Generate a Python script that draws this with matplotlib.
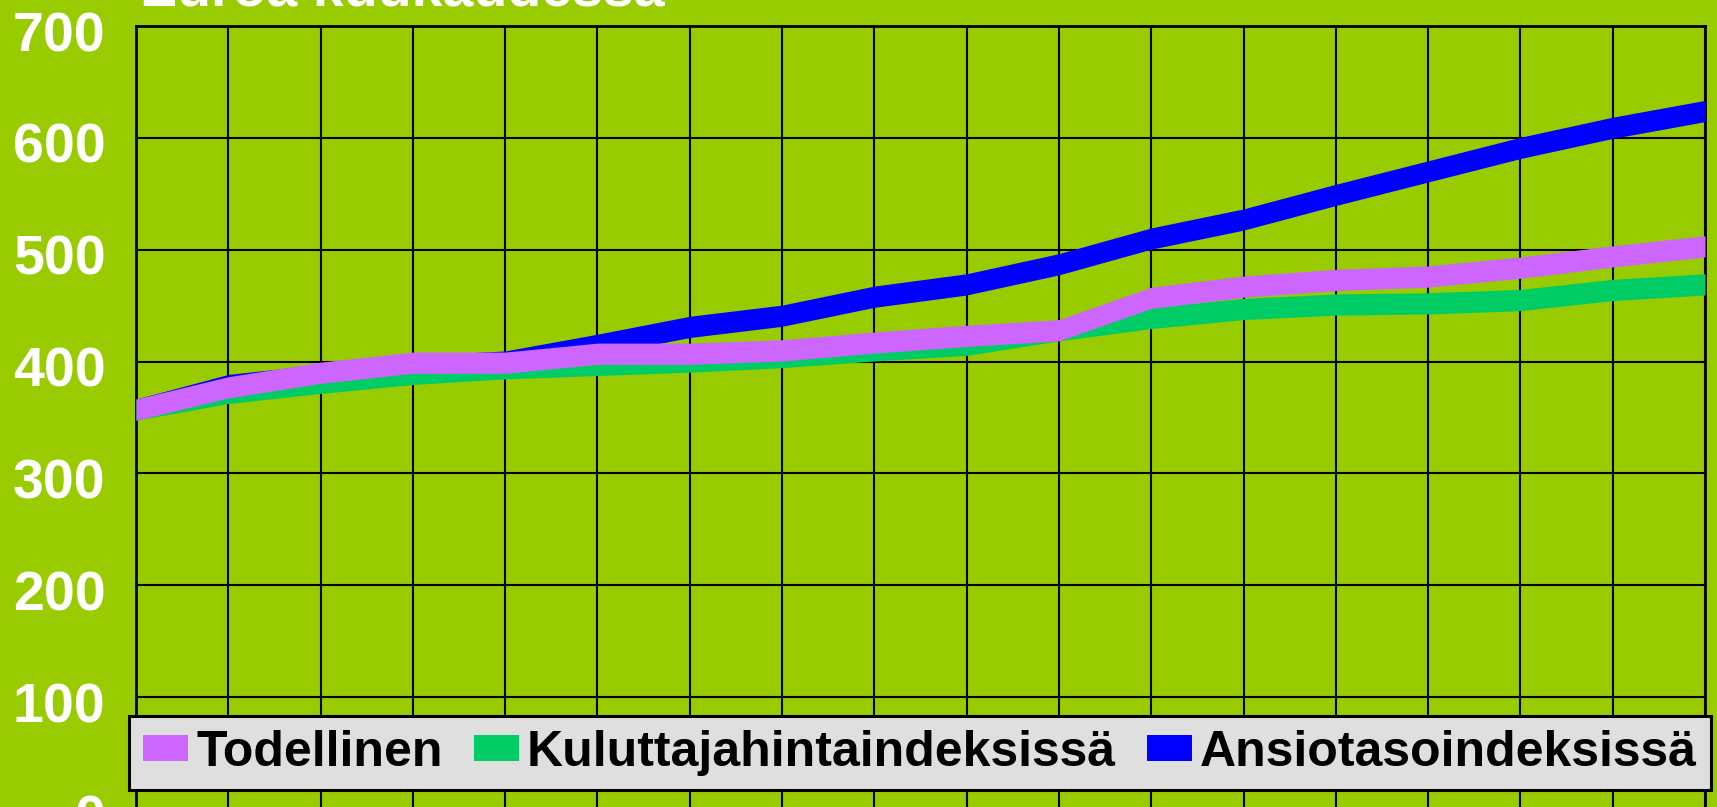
import numpy as np
import matplotlib
matplotlib.use("Agg")
import matplotlib.pyplot as plt
from matplotlib.patches import Patch
from matplotlib.transforms import ScaledTranslation

# ---- data (euros per month) ----
periods = list(range(18))
todellinen = [357, 377, 390, 399, 399, 407, 407, 410, 417, 423, 428, 457, 467, 473, 476, 484, 494, 503]
kuluttaja = [357, 372, 381, 389, 394, 397, 400, 404, 410, 415, 428, 439, 447, 451, 452, 455, 464, 469]
ansiotaso = [357, 379, 388, 396, 400, 415, 431, 441, 458, 469, 487, 510, 527, 549, 570, 591, 609, 624]
series_names = ["Todellinen", "Kuluttajahintaindeksissä", "Ansiotasoindeksissä"]
y_ticks = [0, 100, 200, 300, 400, 500, 600, 700]
title = "Euroa kuukaudessa"

BG = "#99CC00"
C_TOD = "#CC66FF"
C_KUL = "#00CC66"
C_ANS = "#0000FF"
HALF = 9.5  # half ribbon thickness in data units

plt.rcParams['font.family'] = ['Liberation Sans', 'DejaVu Sans']

fig = plt.figure(figsize=(17.17, 8.07), dpi=100, facecolor=BG)
ax = fig.add_axes([136/1717, 1 - 809/807, (1705 - 136)/1717, (809 - 26)/807])
ax.set_facecolor(BG)

x = np.array(periods)
for vals, col, z in [(ansiotaso, C_ANS, 3), (kuluttaja, C_KUL, 4), (todellinen, C_TOD, 5)]:
    v = np.array(vals, dtype=float)
    ax.fill_between(x, v - HALF, v + HALF, color=col, linewidth=0, zorder=z)

ax.set_xlim(x[0], x[-1])
ax.set_ylim(0, 700)
ax.set_yticks(y_ticks)
ax.set_xticks(x)
ax.set_xticklabels([])
ax.grid(True, color="black", linewidth=1.5, zorder=1)
ax.set_axisbelow(True)
ax.tick_params(axis='both', length=0)
ax.tick_params(axis='y', pad=22, labelsize=40, labelcolor='white')
for lab in ax.get_yticklabels():
    lab.set_fontweight('bold')
    lab.set_transform(lab.get_transform() + ScaledTranslation(0, -0.05, fig.dpi_scale_trans))
for s in ax.spines.values():
    s.set_color("black")
    s.set_linewidth(2)

fig.text(140/1717, 1 - 5/807, title, color='white', fontsize=40, fontweight='bold',
         ha='left', va='baseline')

handles = [Patch(facecolor=C_TOD, edgecolor='none'),
           Patch(facecolor=C_KUL, edgecolor='none'),
           Patch(facecolor=C_ANS, edgecolor='none')]
leg = fig.legend(handles, series_names, loc='center',
                 bbox_to_anchor=(920/1717, 1 - 753/807), ncol=3,
                 prop={'size': 36, 'weight': 'bold'},
                 handlelength=0.9, handleheight=0.42, handletextpad=0.16,
                 columnspacing=0.62, borderpad=0.28, borderaxespad=0,
                 frameon=True, fancybox=False, framealpha=1)
leg.get_frame().set_facecolor('#DFDFDF')
leg.get_frame().set_edgecolor('black')
leg.get_frame().set_linewidth(2.2)
leg.set_zorder(10)

fig.savefig("out.png", dpi=100, facecolor=BG)
